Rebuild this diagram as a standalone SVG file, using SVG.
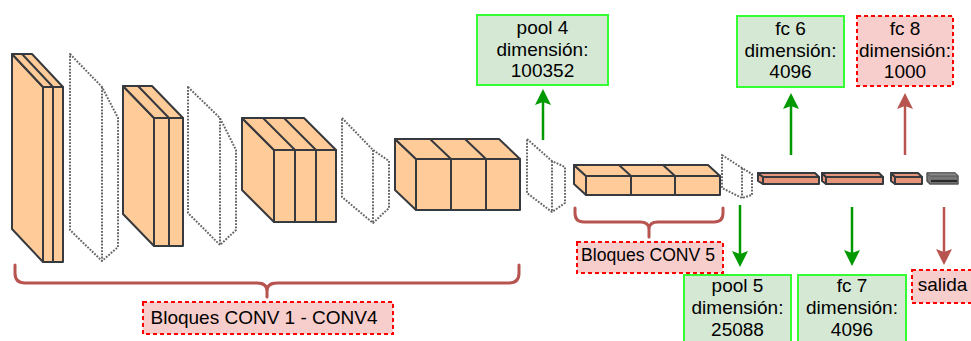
<svg xmlns="http://www.w3.org/2000/svg" width="971" height="341" viewBox="0 0 971 341">
  <style>
    .blk { fill: #FFCC99; stroke: #36393d; stroke-width: 2; stroke-linejoin: round; }
    .ln { fill: none; stroke: #36393d; stroke-width: 2; }
    .fc { fill: #E5967A; stroke: #36393d; stroke-width: 2; stroke-linejoin: round; }
    .pool { fill: none; stroke: #666; stroke-width: 2; stroke-dasharray: 1.8 1.4; stroke-linejoin: round; }
    .gbox { fill: #D5E8D4; stroke: #33FF33; stroke-width: 2; }
    .rbox { fill: #F8CECC; stroke: #FF0000; stroke-width: 2; stroke-dasharray: 4 3; }
    .t { font-family: "Liberation Sans", Arial, Helvetica, sans-serif; font-size: 19px; fill: #000; text-anchor: middle; }
    .brace { fill: none; stroke: #B85450; stroke-width: 3; stroke-linecap: round; stroke-linejoin: round; }
    .ag { stroke: #009900; stroke-width: 2.5; fill: none; }
    .ar { stroke: #B85450; stroke-width: 2.5; fill: none; }
  </style>
  <defs>
    <marker id="headG" viewBox="0 0 16 16" refX="3" refY="8" markerWidth="16" markerHeight="16" markerUnits="userSpaceOnUse" orient="auto">
      <path d="M0,0 L16,8 L0,16 L3,8 z" fill="#009900"/>
    </marker>
    <marker id="headR" viewBox="0 0 16 16" refX="3" refY="8" markerWidth="16" markerHeight="16" markerUnits="userSpaceOnUse" orient="auto">
      <path d="M0,0 L16,8 L0,16 L3,8 z" fill="#B85450"/>
    </marker>
  </defs>

  <!-- conv block 1: two layers -->
  <g id="conv1">
    <polygon class="blk" points="12,54 43,87 43,262 12,229"/>
    <polygon class="blk" points="12,54 32,54 63,87 43,87"/>
    <rect class="blk" x="43" y="87" width="20" height="175"/>
    <path class="ln" d="M53,87 V262 M22,54 L53,87"/>
  </g>
  <g id="pool1">
    <path class="pool" d="M70,54 L102,87 L118,118 V247 L102,261 L70,230 Z M102,87 V261"/>
  </g>

  <!-- conv block 2: two layers -->
  <g id="conv2">
    <polygon class="blk" points="123,86 154,118 154,246 123,214"/>
    <polygon class="blk" points="123,86 152,86 183,118 154,118"/>
    <rect class="blk" x="154" y="118" width="29" height="128"/>
    <path class="ln" d="M169,118 V246 M138,86 L169,118"/>
  </g>
  <g id="pool2">
    <path class="pool" d="M188,87 L220,118 L236,150 V230 L220,245 L188,213 Z M220,118 V245"/>
  </g>

  <!-- conv block 3: three layers -->
  <g id="conv3">
    <polygon class="blk" points="242,118 274,150 274,222 242,190"/>
    <polygon class="blk" points="242,118 304,118 336,150 274,150"/>
    <rect class="blk" x="274" y="150" width="62" height="72"/>
    <path class="ln" d="M295,150 V222 M316,150 V222 M263,118 L295,150 M284,118 L316,150"/>
  </g>
  <g id="pool3">
    <path class="pool" d="M342,118 L373,150 L389,161 V208 L373,223 L342,197 Z M373,150 V223"/>
  </g>

  <!-- conv block 4: three layers -->
  <g id="conv4">
    <polygon class="blk" points="395,139 416,159 416,210 395,190"/>
    <polygon class="blk" points="395,139 499,139 520,159 416,159"/>
    <rect class="blk" x="416" y="159" width="104" height="51"/>
    <path class="ln" d="M451,159 V210 M486,159 V210 M430,139 L451,159 M465,139 L486,159"/>
  </g>
  <g id="pool4">
    <path class="pool" d="M527,139 L552,161 L565,167 V203 L552,212 L527,193 Z M552,161 V212"/>
  </g>

  <!-- conv block 5: three layers -->
  <g id="conv5">
    <polygon class="blk" points="574,165 586,176 586,195 574,184"/>
    <polygon class="blk" points="574,165 708,165 720,176 586,176"/>
    <rect class="blk" x="586" y="176" width="134" height="19"/>
    <path class="ln" d="M631,176 V195 M675,176 V195 M619,165 L631,176 M663,165 L675,176"/>
  </g>
  <g id="pool5">
    <path class="pool" d="M722,155 L742,168 L752,174 V195 L742,198 L722,188 Z M742,168 V198"/>
  </g>

  <!-- fully connected layers -->
  <g id="fc6">
    <polygon class="fc" points="758,173 763,177 763,184 758,181"/>
    <polygon class="fc" points="758,173 815,173 819,177 763,177"/>
    <rect class="fc" x="763" y="177" width="56" height="7"/>
  </g>
  <g id="fc7">
    <polygon class="fc" points="822,173 826,177 826,184 822,181"/>
    <polygon class="fc" points="822,173 879,173 883,177 826,177"/>
    <rect class="fc" x="826" y="177" width="57" height="7"/>
  </g>
  <g id="fc8">
    <polygon class="fc" points="891,173 895,177 895,184 891,181"/>
    <polygon class="fc" points="891,173 918,173 922,177 895,177"/>
    <rect class="fc" x="895" y="177" width="27" height="7"/>
  </g>
  <g id="output">
    <polygon points="927,173 955,173 958,176 958,184 930,184 927,181" fill="#777" stroke="#555" stroke-width="1.5" stroke-linejoin="round"/>
    <path d="M927,173 L955,173 L958,176 L930,176 Z" fill="#8c8c8c" stroke="#555" stroke-width="1"/>
    <path d="M931,181 H957" stroke="#2a2a2a" stroke-width="2.2"/>
  </g>

  <!-- labels -->
  <g id="label-pool4">
    <rect class="gbox" x="477" y="15" width="131" height="70"/>
    <text class="t" x="542.5" y="34">pool 4</text>
    <text class="t" x="542.5" y="55.5">dimensión:</text>
    <text class="t" x="542.5" y="77">100352</text>
  </g>
  <g id="label-fc6">
    <rect class="gbox" x="737" y="16" width="107" height="71"/>
    <text class="t" x="790.5" y="35">fc 6</text>
    <text class="t" x="790.5" y="56.5">dimensión:</text>
    <text class="t" x="790.5" y="78">4096</text>
  </g>
  <g id="label-fc8">
    <rect class="rbox" x="857" y="16" width="96" height="70"/>
    <text class="t" x="905" y="35">fc 8</text>
    <text class="t" x="905" y="56.5">dimensión:</text>
    <text class="t" x="905" y="78">1000</text>
  </g>
  <g id="label-pool5">
    <rect class="gbox" x="684" y="275" width="107" height="72"/>
    <text class="t" x="737.5" y="292">pool 5</text>
    <text class="t" x="737.5" y="313.5">dimensión:</text>
    <text class="t" x="737.5" y="335.5">25088</text>
  </g>
  <g id="label-fc7">
    <rect class="gbox" x="798" y="275" width="108" height="72"/>
    <text class="t" x="852" y="292">fc 7</text>
    <text class="t" x="852" y="313.5">dimensión:</text>
    <text class="t" x="852" y="335.5">4096</text>
  </g>
  <g id="label-salida">
    <rect class="rbox" x="912" y="270" width="66" height="33"/>
    <text class="t" x="942.5" y="290.5">salida</text>
  </g>
  <g id="label-conv5">
    <rect class="rbox" x="577" y="242" width="146" height="31"/>
    <text class="t" x="648" y="261" style="font-size:17.6px">Bloques CONV 5</text>
  </g>
  <g id="label-conv1-4">
    <rect class="rbox" x="143" y="302" width="250" height="32"/>
    <text class="t" x="264" y="324">Bloques CONV 1 - CONV4</text>
  </g>

  <!-- connectors: braces and arrows -->
  <g id="connectors">
    <path class="brace" d="M15,265 V273 Q15,283 25,283 H257 Q267,283 267,291 V297 M267,291 Q267,283 277,283 H509 Q519,283 519,273 V265"/>
    <path class="brace" d="M575,208 V213 Q575,222 584,222 H640 Q649,222 649,229 V237 M649,229 Q649,222 658,222 H714 Q723,222 723,213 V208"/>
    <line class="ag" x1="543" y1="140" x2="543" y2="102" marker-end="url(#headG)"/>
    <line class="ag" x1="791" y1="155" x2="791" y2="106" marker-end="url(#headG)"/>
    <line class="ar" x1="905" y1="155" x2="905" y2="106" marker-end="url(#headR)"/>
    <line class="ag" x1="740" y1="205" x2="740" y2="254" marker-end="url(#headG)"/>
    <line class="ag" x1="852" y1="207" x2="852" y2="253" marker-end="url(#headG)"/>
    <line class="ar" x1="944" y1="207" x2="944" y2="252" marker-end="url(#headR)"/>
  </g>
</svg>
